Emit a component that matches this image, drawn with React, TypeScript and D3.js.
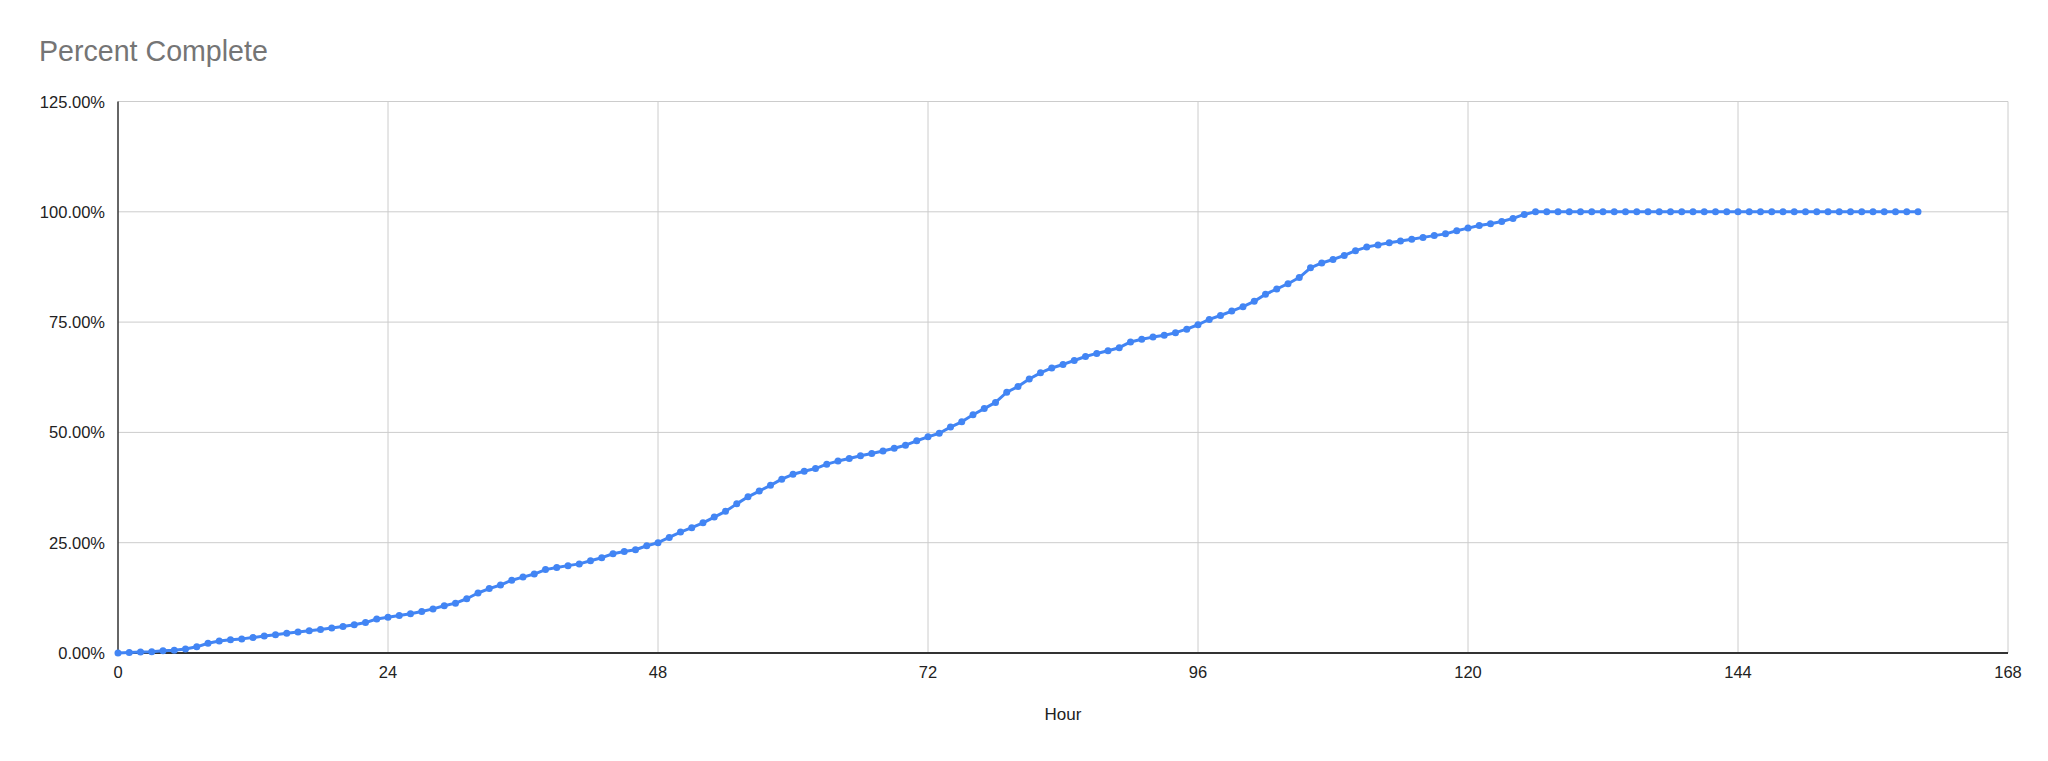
import React from "react";
import * as d3 from "d3";

const title = "Percent Complete";
const xAxisTitle = "Hour";
const xTicks = [0, 24, 48, 72, 96, 120, 144, 168];
const yTicks = [0, 25, 50, 75, 100, 125];

// percent complete for hours 0..125 (after that, 100% until hour 160)
const rampValues = [
  0, 0.1, 0.2, 0.3, 0.5, 0.6, 0.9, 1.4, 2.2, 2.7,
  3.0, 3.2, 3.5, 3.85, 4.15, 4.5, 4.75, 5.05, 5.35, 5.65,
  6.0, 6.4, 6.9, 7.7, 8.1, 8.5, 8.9, 9.4, 10.0, 10.7,
  11.3, 12.3, 13.6, 14.6, 15.4, 16.5, 17.2, 17.9, 18.9, 19.4,
  19.8, 20.2, 20.9, 21.6, 22.5, 23.0, 23.4, 24.3, 25.0, 26.2,
  27.4, 28.4, 29.5, 30.8, 32.1, 33.8, 35.4, 36.7, 38.0, 39.4,
  40.5, 41.2, 41.8, 42.8, 43.5, 44.1, 44.7, 45.2, 45.8, 46.4,
  47.1, 48.1, 49.0, 49.8, 51.2, 52.4, 54.0, 55.4, 56.8, 59.1,
  60.4, 62.1, 63.5, 64.6, 65.4, 66.3, 67.2, 67.9, 68.5, 69.2,
  70.5, 71.1, 71.6, 72.0, 72.6, 73.4, 74.4, 75.6, 76.5, 77.5,
  78.5, 79.7, 81.3, 82.5, 83.7, 85.1, 87.3, 88.4, 89.2, 90.1,
  91.2, 92.0, 92.5, 93.0, 93.4, 93.8, 94.2, 94.6, 95.0, 95.7,
  96.3, 96.9, 97.3, 97.8, 98.5, 99.4,
];
const flatValues = [
  100, 100, 100, 100, 100, 100, 100, 100, 100, 100,
  100, 100, 100, 100, 100, 100, 100, 100, 100, 100,
  100, 100, 100, 100, 100, 100, 100, 100, 100, 100,
  100, 100, 100, 100, 100,
];
const percentValues = [...rampValues, ...flatValues];
const hours = percentValues.map((_, i) => i);

const W = 2048;
const H = 761;
const FONT = "Arial, 'Liberation Sans', sans-serif";

export default function App() {
  const x = d3.scaleLinear().domain([0, 168]).range([118, 2008]);
  const y = d3.scaleLinear().domain([0, 125]).range([653, 101.5]);
  const data = hours.map((h, i) => ({ h, v: percentValues[i] }));
  const line = d3
    .line<{ h: number; v: number }>()
    .x((d) => x(d.h))
    .y((d) => y(d.v));
  const fmt = (v: number) => d3.format(".2f")(v) + "%";

  return (
    <div style={{ position: "fixed", left: 0, top: 0 }}>
      <svg width={W} height={H} style={{ display: "block", background: "#fff" }}>
        <rect x={0} y={0} width={W} height={H} fill="#fff" />
        <text x={39} y={61} fontFamily={FONT} fontSize={28.6} fill="#757575">
          {title}
        </text>
        {yTicks.map((t) => (
          <g key={"y" + t}>
            {t > 0 && (
              <line x1={x(0)} x2={x(168)} y1={y(t)} y2={y(t)} stroke="#cccccc" strokeWidth={1} />
            )}
            <text
              x={105}
              y={y(t) + 6}
              textAnchor="end"
              fontFamily={FONT}
              fontSize={16.5}
              fill="#222"
            >
              {fmt(t)}
            </text>
          </g>
        ))}
        {xTicks.map((t) => (
          <g key={"x" + t}>
            {t > 0 && (
              <line x1={x(t)} x2={x(t)} y1={y(125)} y2={y(0)} stroke="#cccccc" strokeWidth={1} />
            )}
            <text
              x={x(t)}
              y={678}
              textAnchor="middle"
              fontFamily={FONT}
              fontSize={16.5}
              fill="#222"
            >
              {t}
            </text>
          </g>
        ))}
        <line x1={x(0)} x2={x(0)} y1={y(125)} y2={y(0)} stroke="#333" strokeWidth={1.5} />
        <line x1={x(0)} x2={x(168)} y1={y(0)} y2={y(0)} stroke="#333" strokeWidth={2} />
        <text
          x={(x(0) + x(168)) / 2}
          y={720}
          textAnchor="middle"
          fontFamily={FONT}
          fontSize={17}
          fill="#222"
        >
          {xAxisTitle}
        </text>
        <path d={line(data) || ""} fill="none" stroke="#4285f4" strokeWidth={3} strokeLinejoin="round" />
        {data.map((d) => (
          <circle key={d.h} cx={x(d.h)} cy={y(d.v)} r={3.5} fill="#4285f4" />
        ))}
      </svg>
    </div>
  );
}
